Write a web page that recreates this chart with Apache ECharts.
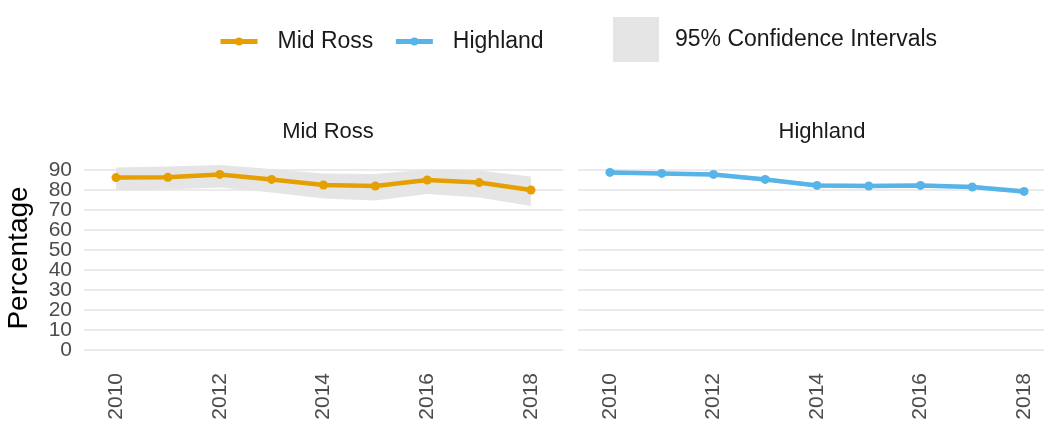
<!DOCTYPE html>
<html>
<head>
<meta charset="utf-8">
<script src="https://cdn.jsdelivr.net/npm/echarts@6/dist/echarts.min.js"></script>
<style>
  html, body { margin: 0; padding: 0; background: #fff; }
  #chart { width: 1044px; height: 423px; }
</style>
</head>
<body>
<div id="chart"></div>
<script>
// data
const years = [2010, 2011, 2012, 2013, 2014, 2015, 2016, 2017, 2018];
const yearTicks = [2010, 2012, 2014, 2016, 2018];
const pctTicks = [0, 10, 20, 30, 40, 50, 60, 70, 80, 90];

const midRoss = [86.2, 86.4, 87.8, 85.3, 82.5, 82.0, 85.0, 83.7, 80.0];
const midRossLow = [79.7, 80.3, 81.3, 78.8, 75.7, 74.7, 78.0, 76.2, 72.0];
const midRossHigh = [91.3, 91.8, 92.5, 90.5, 88.3, 88.0, 90.3, 89.7, 86.7];

const highland = [88.8, 88.3, 87.8, 85.3, 82.3, 82.0, 82.3, 81.5, 79.3];
const highlandLow = [87.8, 87.3, 86.8, 84.2, 81.2, 80.9, 81.2, 80.4, 78.1];
const highlandHigh = [89.8, 89.3, 88.8, 86.4, 83.4, 83.1, 83.4, 82.6, 80.5];

const FONT = 'Liberation Sans';
const CI_NAME = '95% Confidence Intervals';

const chart = echarts.init(document.getElementById('chart'), null, { renderer: 'canvas' });

// band polygon, drawn once from the first item
function bandSeries(gridIdx, low, high) {
  return {
    name: CI_NAME,
    type: 'custom',
    xAxisIndex: gridIdx,
    yAxisIndex: gridIdx,
    itemStyle: { color: '#e5e5e5' },
    silent: true,
    z: 1,
    data: years.map((y, i) => [y, low[i], high[i]]),
    renderItem: (params, api) => {
      if (params.dataIndex !== 0) return;
      const pts = [];
      years.forEach((y, i) => pts.push(api.coord([y, high[i]])));
      for (let i = years.length - 1; i >= 0; i--) pts.push(api.coord([years[i], low[i]]));
      return {
        type: 'polygon',
        shape: { points: pts },
        style: { fill: '#e5e5e5' }
      };
    }
  };
}

function lineSeries(gridIdx, name, values, color) {
  return {
    name: name,
    type: 'line',
    xAxisIndex: gridIdx,
    yAxisIndex: gridIdx,
    data: years.map((y, i) => [y, values[i]]),
    symbol: 'circle',
    symbolSize: 9,
    lineStyle: { width: 4.5, color: color },
    itemStyle: { color: color },
    z: 3
  };
}

function xAxis(gridIdx) {
  return {
    type: 'value',
    gridIndex: gridIdx,
    min: 2009.383,
    max: 2018.617,
    axisLine: { show: false },
    axisTick: { show: false, customValues: yearTicks },
    splitLine: { show: false },
    axisLabel: {
      customValues: yearTicks,
      formatter: v => String(v),
      rotate: 90,
      margin: 15,
      fontFamily: FONT,
      fontSize: 21,
      color: '#4d4d4d'
    }
  };
}

// labels are split over two axes so the tight 0..90 labels never get hidden as overlapping
function yAxis(gridIdx, labels, withGrid, name) {
  return {
    type: 'value',
    gridIndex: gridIdx,
    position: 'left',
    min: -4,
    max: 96,
    name: name,
    nameLocation: 'middle',
    nameRotate: 90,
    nameGap: 51,
    nameTextStyle: { fontFamily: FONT, fontSize: 28, color: '#000' },
    axisLine: { show: false },
    axisTick: { show: false, customValues: withGrid ? pctTicks : labels },
    splitLine: { show: withGrid, lineStyle: { color: '#ebebeb', width: 2 } },
    axisLabel: {
      show: labels.length > 0,
      customValues: labels.length ? labels : pctTicks,
      margin: 12,
      fontFamily: FONT,
      fontSize: 21,
      color: '#4d4d4d'
    }
  };
}

const option = {
  backgroundColor: '#fff',
  animation: false,
  title: [
    { text: 'Mid Ross', left: 323, textAlign: 'center', top: 116,
      textStyle: { fontFamily: FONT, fontSize: 22, fontWeight: 'normal', color: '#1a1a1a' } },
    { text: 'Highland', left: 817, textAlign: 'center', top: 116,
      textStyle: { fontFamily: FONT, fontSize: 22, fontWeight: 'normal', color: '#1a1a1a' } }
  ],
  legend: [
    {
      data: ['Mid Ross', 'Highland'],
      left: 218,
      top: 30,
      padding: 0,
      itemWidth: 37,
      itemHeight: 10,
      itemGap: 20,
      selectedMode: false,
      lineStyle: { width: 5 },
      textStyle: { fontFamily: FONT, fontSize: 23, color: '#1a1a1a', padding: [0, 0, 0, 15] }
    },
    {
      data: [{ name: CI_NAME, icon: 'rect' }],
      left: 613,
      top: 17,
      padding: 0,
      itemWidth: 46,
      itemHeight: 45,
      selectedMode: false,
      textStyle: { fontFamily: FONT, fontSize: 23, color: '#1a1a1a', padding: [0, 0, 0, 11] }
    }
  ],
  grid: [
    { left: 84, width: 479, top: 158, height: 200, outerBoundsMode: 'none' },
    { left: 578, width: 478, top: 158, height: 200, outerBoundsMode: 'none' }
  ],
  xAxis: [xAxis(0), xAxis(1)],
  yAxis: [
    yAxis(0, pctTicks.filter(v => v % 20 === 0), true, 'Percentage'),
    yAxis(1, [], true, ''),
    yAxis(0, pctTicks.filter(v => v % 20 !== 0), false, '')
  ],
  series: [
    bandSeries(0, midRossLow, midRossHigh),
    bandSeries(1, highlandLow, highlandHigh),
    lineSeries(0, 'Mid Ross', midRoss, '#E69F00'),
    lineSeries(1, 'Highland', highland, '#56B4E9')
  ]
};

chart.setOption(option);
</script>
</body>
</html>
